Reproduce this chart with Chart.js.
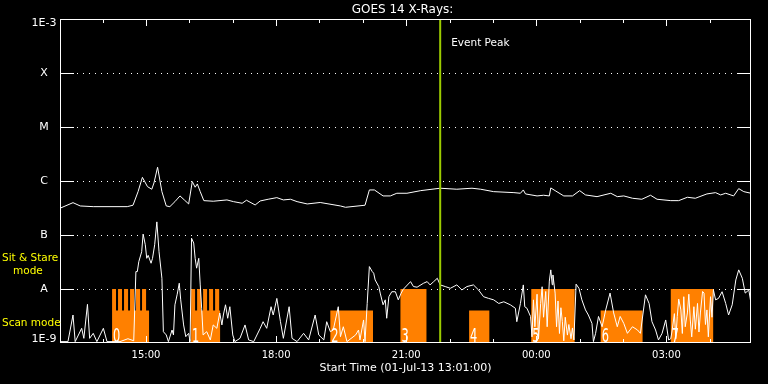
<!DOCTYPE html>
<html>
<head>
<meta charset="utf-8">
<title>GOES 14 X-Rays</title>
<script src="https://cdn.jsdelivr.net/npm/chart.js"></script>
<style>
  html, body { margin: 0; padding: 0; background: #000; }
  canvas { display: block; background: #000; }
</style>
</head>
<body>
<canvas id="goesChart" width="768" height="384"></canvas>
<script>
// Times are minutes after 00:00 on 01-Jul-13 (values above 1440 are on 02-Jul)
const startMinute = 781; // 13:01
const endMinute = 1737;
const eventPeakMinute = 1307;

const yTickValues = [1e-9, 1e-8, 1e-7, 1e-6, 1e-5, 1e-4, 1e-3];
const yTickLabels = ["1E-9", "A", "B", "C", "M", "X", "1E-3"];
const xLabelMinutes = [900, 1080, 1260, 1440, 1620];
const xHourMinutes = [840, 900, 960, 1020, 1080, 1140, 1200, 1260, 1320, 1380, 1440, 1500, 1560, 1620, 1680];
const xMajorMinutes = [900, 1080, 1260, 1440, 1620];

// GOES 14 long channel (1-8 A)
const longTimes = [781, 799, 809, 827, 874, 882, 889, 895, 902, 908, 911, 916, 922, 928, 933, 940, 947, 953, 959, 964,
  968, 971, 975, 980, 993, 1012, 1021, 1033, 1039, 1051, 1058, 1069, 1081, 1090, 1100, 1109, 1123, 1141, 1169, 1176,
  1203, 1209, 1216, 1228, 1238, 1247, 1261, 1280, 1307, 1330, 1351, 1363, 1381, 1409, 1418, 1422, 1425, 1441, 1450, 1458,
  1460, 1466, 1478, 1490, 1500, 1508, 1524, 1543, 1552, 1561, 1573, 1586, 1598, 1607, 1626, 1637, 1649, 1660, 1676, 1688,
  1695, 1702, 1713, 1720, 1727, 1737];
const longFlux = [3.13e-7, 3.97e-7, 3.45e-7, 3.35e-7, 3.35e-7, 3.56e-7, 6.35e-7, 1.17e-6, 7.87e-7, 7.04e-7, 9.2e-7, 1.8e-6, 6.35e-7, 3.45e-7, 3.35e-7, 4.15e-7, 5.29e-7, 4.46e-7, 3.76e-7, 9.74e-7,
  7.67e-7, 8.83e-7, 6.35e-7, 4.33e-7, 4.22e-7, 4.46e-7, 4.15e-7, 3.87e-7, 4.4e-7, 3.6e-7, 4.27e-7, 4.59e-7, 4.92e-7, 4.46e-7, 4.59e-7, 4.15e-7, 3.76e-7, 4.0e-7, 3.45e-7, 3.26e-7,
  3.56e-7, 6.83e-7, 6.83e-7, 5.29e-7, 5.29e-7, 5.93e-7, 5.93e-7, 6.63e-7, 7.35e-7, 7.04e-7, 7.35e-7, 7.04e-7, 6.35e-7, 6.09e-7, 5.93e-7, 6.83e-7, 5.76e-7, 5.29e-7, 5.45e-7, 5.29e-7,
  7.44e-7, 6.63e-7, 5.29e-7, 5.29e-7, 6.63e-7, 5.52e-7, 5.13e-7, 5.93e-7, 5.13e-7, 5.29e-7, 4.79e-7, 4.59e-7, 5.45e-7, 4.59e-7, 4.33e-7, 4.33e-7, 5.0e-7, 4.79e-7, 5.76e-7, 6.09e-7,
  5.52e-7, 5.93e-7, 5.29e-7, 7.22e-7, 6.35e-7, 5.93e-7];

// GOES 14 short channel (0.5-4 A)
const shortTimes = [781, 792, 799, 802, 811, 814, 819, 822, 827, 832, 841, 846, 864, 875, 883, 886, 888, 890, 894, 896,
  899, 901, 903, 907, 909, 912, 915, 918, 922, 924, 928, 931, 936, 938, 940, 943, 946, 948, 952, 955,
  959, 961, 963, 966, 968, 970, 973, 975, 977, 979, 984, 989, 993, 998, 1002, 1005, 1007, 1010, 1013, 1016,
  1020, 1023, 1030, 1037, 1042, 1049, 1058, 1062, 1067, 1073, 1076, 1081, 1086, 1090, 1098, 1102, 1109, 1118, 1125, 1134,
  1139, 1146, 1150, 1155, 1159, 1166, 1169, 1173, 1178, 1190, 1194, 1196, 1201, 1203, 1206, 1209, 1213, 1215, 1217, 1222,
  1224, 1228, 1231, 1233, 1236, 1240, 1245, 1249, 1253, 1256, 1266, 1270, 1275, 1284, 1289, 1293, 1298, 1303, 1307, 1314,
  1321, 1330, 1337, 1344, 1353, 1360, 1367, 1374, 1381, 1388, 1395, 1404, 1411, 1413, 1418, 1422, 1424, 1427,
  1432, 1434, 1436, 1438, 1441, 1443, 1446, 1448, 1450, 1453, 1455, 1458, 1460, 1462, 1463, 1466, 1468, 1470, 1472, 1474,
  1476, 1478, 1480, 1483, 1485, 1488, 1490, 1492,
  1495, 1499, 1503, 1508, 1512, 1517, 1519, 1522, 1526, 1531, 1536, 1542, 1547, 1552, 1556, 1561, 1566, 1573, 1580, 1584,
  1591, 1596, 1600, 1605, 1609, 1614, 1619, 1623,
  1626, 1628, 1631, 1633, 1635, 1637, 1640, 1642, 1644, 1646, 1649, 1651, 1653, 1655, 1658, 1660, 1663, 1665, 1667, 1670,
  1672, 1674, 1676, 1678, 1681, 1683, 1685,
  1688, 1692, 1697, 1702, 1706, 1711, 1716, 1720, 1725, 1729, 1734, 1737];
const shortFlux = [1.06e-9, 1.06e-9, 3.3e-9, 1.06e-9, 1.87e-9, 1.22e-9, 5.2e-9, 1.22e-9, 1.51e-9, 1.06e-9, 1.87e-9, 1.06e-9, 1.06e-9, 1.2e-9, 1.1e-9, 2.1e-8, 2.1e-8, 3.2e-8, 4.9e-8, 1.04e-7,
  6.6e-8, 3.7e-8, 4.2e-8, 3.0e-8, 3.7e-8, 6.6e-8, 1.75e-7, 4.9e-8, 1.58e-8, 1.62e-9, 1.41e-9, 1.06e-9, 1.74e-9, 1.41e-9, 5.1e-9, 7.8e-9, 1.28e-8, 6.3e-9, 2.16e-9, 1.31e-9,
  1.51e-9, 1.06e-9, 8.7e-8, 7.1e-8, 3.7e-8, 2.43e-8, 3.7e-8, 1.19e-8, 4.4e-9, 1.41e-9, 1.62e-9, 1.14e-9, 2.16e-9, 1.87e-9, 3.6e-9, 2.16e-9, 3.3e-9, 5.1e-9, 2.87e-9, 4.7e-9,
  1.41e-9, 1.06e-9, 1.22e-9, 2.16e-9, 1.14e-9, 1.06e-9, 1.87e-9, 2.48e-9, 1.87e-9, 4.7e-9, 3.3e-9, 6.7e-9, 2.48e-9, 1.22e-9, 4.7e-9, 1.22e-9, 1.06e-9, 1.51e-9, 1.14e-9, 3.3e-9,
  1.41e-9, 1.14e-9, 2.48e-9, 1.62e-9, 1.74e-9, 4.7e-9, 1.31e-9, 2.0e-9, 1.06e-9, 1.41e-9, 1.74e-9, 1.14e-9, 2.67e-9, 1.06e-9, 5.4e-9, 2.6e-8, 2.1e-8, 1.96e-8, 1.47e-8, 1.11e-8,
  8.4e-9, 5.1e-9, 6.3e-9, 2.87e-9, 7.2e-9, 8.9e-9, 8.9e-9, 6.3e-9, 8.4e-9, 9.9e-9, 1.37e-8, 1.11e-8, 1.08e-8, 1.28e-8, 1.37e-8, 1.19e-8, 1.37e-8, 1.58e-8, 1.19e-8, 1.11e-8,
  1.03e-8, 1.19e-8, 9.6e-9, 1.11e-8, 1.19e-8, 9.6e-9, 7.2e-9, 6.7e-9, 6.3e-9, 5.4e-9, 5.8e-9, 5.1e-9, 4.4e-9, 2.48e-9, 5.4e-9, 1.19e-8, 4.7e-9, 4.4e-9,
  3.1e-9, 1.3e-9, 6.3e-9, 2.0e-9, 8.0e-9, 1.2e-9, 5.4e-9, 1.1e-8, 3.0e-9, 9.0e-9, 2.0e-9, 1.4e-8, 2.26e-8, 1.2e-8, 1.82e-8, 8.4e-9, 2.0e-9, 6.0e-9, 1.5e-9, 4.5e-9,
  2.48e-9, 1.1e-9, 3.0e-9, 1.4e-9, 2.2e-9, 1.2e-9, 1.9e-9, 1.14e-9,
  1.23e-8, 1.03e-8, 6.3e-9, 4.1e-9, 3.3e-9, 2.3e-9, 1.06e-9, 1.51e-9, 3.1e-9, 2.0e-9, 4.1e-9, 8.4e-9, 3.6e-9, 2.0e-9, 3.1e-9, 2.3e-9, 1.51e-9, 2.0e-9, 1.74e-9, 1.51e-9,
  7.8e-9, 5.4e-9, 2.48e-9, 1.74e-9, 1.14e-9, 1.51e-9, 2.67e-9, 1.14e-9,
  1.2e-9, 1.74e-9, 3.5e-9, 1.2e-9, 3.1e-9, 6.5e-9, 4.1e-9, 1.5e-9, 7.2e-9, 2.0e-9, 3.6e-9, 8.0e-9, 2.67e-9, 1.3e-9, 4.7e-9, 1.8e-9, 5.4e-9, 1.6e-9, 3.6e-9, 9.0e-9,
  8.4e-9, 2.2e-9, 4.1e-9, 1.3e-9, 7.2e-9, 3.0e-9, 9.6e-9,
  6.3e-9, 6.7e-9, 8.9e-9, 5.4e-9, 3.3e-9, 5.1e-9, 1.47e-8, 2.26e-8, 1.58e-8, 8.4e-9, 9.6e-9, 5.4e-9];

// Observing mode periods: 1e-8 = sit & stare, 4e-9 = scan
const modeStart = [853, 858.5, 861.3, 866.8, 869.6, 875.2, 877.9, 883.5, 886.2, 891.8, 894.5, 900.1,
  962.4, 967.9, 970.7, 976.2, 979, 984.5, 987.3, 992.8, 995.6, 1001.2,
  1155, 1252, 1347, 1433, 1529, 1626];
const modeEnd = [858.5, 861.3, 866.8, 869.6, 875.2, 877.9, 883.5, 886.2, 891.8, 894.5, 900.1, 904.2,
  967.9, 970.7, 976.2, 979, 984.5, 987.3, 992.8, 995.6, 1001.2, 1002.5,
  1214, 1288, 1375, 1493, 1587, 1685];
const modeFlux = [1e-8, 4e-9, 1e-8, 4e-9, 1e-8, 4e-9, 1e-8, 4e-9, 1e-8, 4e-9, 1e-8, 4e-9,
  1e-8, 4e-9, 1e-8, 4e-9, 1e-8, 4e-9, 1e-8, 4e-9, 1e-8, 4e-9,
  4e-9, 1e-8, 4e-9, 1e-8, 4e-9, 1e-8];

const scanNumbers = ["0", "1", "2", "3", "4", "5", "6", "7"];
const scanNumberTimes = [853, 962.4, 1155, 1252, 1347, 1433, 1529, 1626];

const fontFamily = "'DejaVu Sans', sans-serif";
const floorFlux = yTickValues[0];

function toPoints(times, values) {
	return times.map((t, i) => ({ x: t, y: values[i] }));
}

// step outline of the observing periods, dropping to the floor between them
function modePoints() {
	const pts = [];
	modeStart.forEach((s, i) => {
		if (i === 0 || s > modeEnd[i - 1]) pts.push({ x: s, y: floorFlux });
		pts.push({ x: s, y: modeFlux[i] }, { x: modeEnd[i], y: modeFlux[i] });
		if (i === modeStart.length - 1 || modeStart[i + 1] > modeEnd[i]) pts.push({ x: modeEnd[i], y: floorFlux });
	});
	return pts;
}

function clockLabel(v) {
	const h = Math.floor(v / 60) % 24;
	const m = v % 60;
	return String(h).padStart(2, "0") + ":" + String(m).padStart(2, "0");
}

const goesFrame = {
	id: "goesFrame",
	beforeDatasetsDraw(chart) {
		const { ctx, chartArea: a, scales: { y } } = chart;
		ctx.save();
		ctx.strokeStyle = "#fff";
		ctx.lineWidth = 1;
		ctx.setLineDash([1, 5]);
		yTickValues.slice(1, -1).forEach((v) => {
			const py = Math.round(y.getPixelForValue(v)) + 0.5;
			ctx.beginPath();
			ctx.moveTo(a.left + 17, py);
			ctx.lineTo(a.right - 14, py);
			ctx.stroke();
		});
		ctx.restore();
	},
	afterDatasetsDraw(chart) {
		const { ctx, chartArea: a, scales: { x, y } } = chart;
		ctx.save();
		ctx.strokeStyle = "#fff";
		ctx.lineWidth = 1;
		ctx.strokeRect(a.left + 0.5, a.top + 0.5, a.right - a.left - 1, a.bottom - a.top - 1);
		ctx.beginPath();
		yTickValues.slice(1, -1).forEach((v) => {
			const py = Math.round(y.getPixelForValue(v)) + 0.5;
			ctx.moveTo(a.left, py);
			ctx.lineTo(a.left + 14, py);
			ctx.moveTo(a.right - 14, py);
			ctx.lineTo(a.right, py);
		});
		xHourMinutes.forEach((m) => {
			const px = Math.round(x.getPixelForValue(m)) + 0.5;
			const len = xMajorMinutes.includes(m) ? 7 : 4;
			ctx.moveTo(px, a.top);
			ctx.lineTo(px, a.top + len);
			ctx.moveTo(px, a.bottom);
			ctx.lineTo(px, a.bottom - len);
		});
		ctx.stroke();

		// scan numbers at the start of each period
		ctx.fillStyle = "#fff";
		ctx.font = "19px " + fontFamily;
		ctx.textBaseline = "alphabetic";
		ctx.textAlign = "left";
		scanNumberTimes.forEach((t, i) => {
			ctx.save();
			ctx.translate(x.getPixelForValue(t) + 1, a.bottom - 1);
			ctx.scale(0.6, 1);
			ctx.fillText(scanNumbers[i], 0, 0);
			ctx.restore();
		});
		ctx.restore();
	},
	afterDraw(chart) {
		const { ctx, chartArea: a, scales: { x, y } } = chart;
		ctx.save();
		ctx.fillStyle = "#fff";
		ctx.textBaseline = "middle";

		ctx.font = "12px " + fontFamily;
		ctx.textAlign = "center";
		ctx.fillText("GOES 14 X-Rays:", (a.left + a.right) / 2 - 3, 9.5);

		// y labels, the end ones pulled inside the frame
		ctx.font = "11px " + fontFamily;
		yTickValues.forEach((v, i) => {
			const py = Math.min(Math.max(y.getPixelForValue(v), a.top + 4), a.bottom - 3.5);
			ctx.fillText(yTickLabels[i], 44, py);
		});

		ctx.textAlign = "left";
		ctx.font = "10.5px " + fontFamily;
		ctx.fillText("Event Peak", x.getPixelForValue(eventPeakMinute) + 11, a.top + 24);

		ctx.fillStyle = "#ffff00";
		ctx.fillText("Sit & Stare", 2, 258.5);
		ctx.fillText("mode", 13, 271);
		ctx.fillText("Scan mode", 2, 323.5);
		ctx.restore();
	}
};

new Chart(document.getElementById("goesChart").getContext("2d"), {
	type: "line",
	data: {
		datasets: [
			{
				label: "Event Peak",
				data: [{ x: eventPeakMinute, y: yTickValues[0] }, { x: eventPeakMinute, y: yTickValues[yTickValues.length - 1] }],
				borderColor: "#9ccc00",
				borderWidth: 2,
				pointRadius: 0,
				order: 0,
			},
			{
				label: "1-8 A",
				data: toPoints(longTimes, longFlux),
				borderColor: "#fff",
				borderWidth: 1,
				pointRadius: 0,
				tension: 0,
				order: 1,
			},
			{
				label: "0.5-4 A",
				data: toPoints(shortTimes, shortFlux),
				borderColor: "#fff",
				borderWidth: 1,
				pointRadius: 0,
				tension: 0,
				order: 2,
			},
			{
				label: "Mode",
				data: modePoints(),
				borderColor: "rgba(0,0,0,0)",
				borderWidth: 0,
				backgroundColor: "#ff8000",
				fill: "start",
				pointRadius: 0,
				tension: 0,
				order: 3,
			},
		],
	},
	options: {
		responsive: false,
		animation: false,
		events: [],
		layout: { padding: { top: 19, right: 17, bottom: 0, left: 0 } },
		plugins: {
			legend: { display: false },
			tooltip: { enabled: false },
			title: { display: false },
		},
		scales: {
			x: {
				type: "linear",
				min: startMinute,
				max: endMinute,
				grid: { display: false, drawTicks: false },
				border: { display: false },
				afterBuildTicks: (axis) => { axis.ticks = xLabelMinutes.map((v) => ({ value: v })); },
				afterFit: (axis) => { axis.height = 41; },
				ticks: {
					color: "#fff",
					font: { family: fontFamily, size: 10 },
					padding: 6,
					maxRotation: 0,
					autoSkip: false,
					callback: (v) => clockLabel(v),
				},
				title: {
					display: true,
					text: "Start Time (01-Jul-13 13:01:00)",
					color: "#fff",
					font: { family: fontFamily, size: 11 },
					padding: { top: 0, bottom: 9 },
				},
			},
			y: {
				type: "logarithmic",
				min: yTickValues[0],
				max: yTickValues[yTickValues.length - 1],
				grid: { display: false, drawTicks: false },
				border: { display: false },
				afterBuildTicks: (axis) => { axis.ticks = yTickValues.map((v) => ({ value: v })); },
				afterFit: (axis) => { axis.width = 60; },
				ticks: { display: false },
			},
		},
	},
	plugins: [goesFrame],
});
</script>
</body>
</html>
